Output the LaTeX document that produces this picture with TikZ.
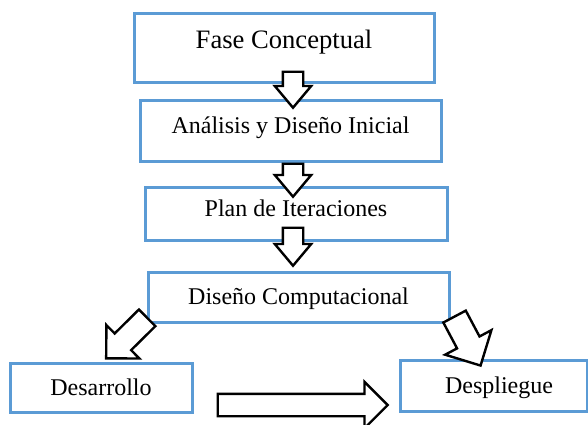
\documentclass[tikz,border=0pt]{standalone}
\usepackage{fontspec}
\setmainfont{Liberation Serif}
\usetikzlibrary{shapes.arrows,calc}
\definecolor{boxblue}{RGB}{91,155,213}

\begin{document}
\begin{tikzpicture}[x=0.5pt, y=-0.5pt,
    every node/.style={font=\fontsize{12}{14}\selectfont},
    phase/.style={draw=boxblue, line width=1.5pt, rectangle, inner sep=0pt,
      text height=8pt, text depth=0pt},
    bigarrow/.style={single arrow, draw=black, fill=white, line width=1.2pt,
      inner xsep=0pt, single arrow tip angle=90},
    downarrow/.style={inner ysep=4.5pt, single arrow head extend=4pt,
      single arrow tip angle=80},
    flow/.style={to path={
      let \p1=(\tikztostart), \p2=(\tikztotarget),
          \n1={atan2(\y2-\y1,\x2-\x1)}, \n2={veclen(\x2-\x1,\y2-\y1)} in
      node[bigarrow, #1, minimum height=\n2, rotate=\n1, anchor=tail] at (\p1) {}}}]
    \useasboundingbox (0,0) rectangle (588,424);
    % Phases, top to bottom
    \node[phase, minimum width=150pt, minimum height=34.5pt,
      font=\fontsize{13.3}{16}\selectfont, text height=8.8pt, text depth=8pt]
      (fase) at (284,47.5) {Fase Conceptual};
    \node[phase, minimum width=150.5pt, minimum height=30.5pt, text depth=5.5pt]
      (analisis) at (290.5,130.5) {Análisis y Diseño Inicial};
    \node[phase, minimum width=151pt, minimum height=26.5pt, text depth=5pt]
      (plan) at (296,213.5) {Plan de Iteraciones};
    \node[phase, minimum width=150.5pt, minimum height=25pt, text depth=1pt]
      (diseno) at (298.5,297) {Diseño Computacional};
    \node[phase, minimum width=91pt, minimum height=24.5pt]
      (desarrollo) at (101,387.5) {Desarrollo};
    \node[phase, minimum width=93.5pt, minimum height=25.5pt]
      (despliegue) at (493.5,385.5) {\hspace*{5.5pt}Despliegue};
    % Block arrows
    \path ([shift={(9,-13)}]fase.south) to[flow=downarrow]
      ([shift={(2.5,8)}]analisis.north);
    \path ([shift={(2.5,0)}]analisis.south) to[flow=downarrow]
      ([shift={(-3,10)}]plan.north);
    \path ([shift={(-3,-15)}]plan.south) to[flow=downarrow]
      ([shift={(-5.5,-6)}]diseno.north);
    \path ([shift={(1.5,-6.5)}]diseno.south west)
      to[flow={inner ysep=5.25pt, single arrow head extend=5.9pt}]
      ([shift={(6,-4)}]desarrollo.north);
    \path ([shift={(3.5,-8)}]diseno.south east)
      to[flow={inner ysep=5.75pt, single arrow head extend=6.75pt}]
      ([shift={(-13.5,6)}]despliegue.north);
    \path ([shift={(23,17.5)}]desarrollo.east)
      to[flow={inner ysep=5pt, single arrow head extend=6pt}]
      ([shift={(-12,19.5)}]despliegue.west);
  \end{tikzpicture}
\end{document}
